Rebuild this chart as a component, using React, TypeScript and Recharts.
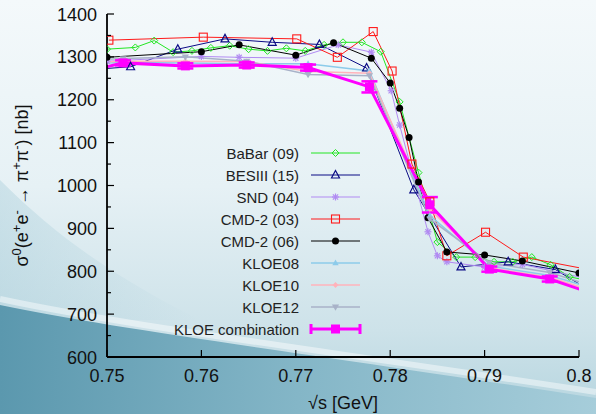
import React from 'react';
import { LineChart, Line, XAxis, YAxis, ErrorBar, Legend } from 'recharts';

const FONT = '"Liberation Sans", Arial, Helvetica, sans-serif';

// ---- axis ticks ----
const X_TICKS = [0.75, 0.76, 0.77, 0.78, 0.79, 0.8];
const X_TICK_LABELS = ['0.75', '0.76', '0.77', '0.78', '0.79', '0.8'];
const Y_MAJOR = [600, 700, 800, 900, 1000, 1100, 1200, 1300, 1400];
const Y_MINOR = [650, 750, 850, 950, 1050, 1150, 1250, 1350];
const Y_TICK_LABELS = ['600', '700', '800', '900', '1000', '1100', '1200', '1300', '1400'];

// ---- series data ----
const babarX = [0.75, 0.753, 0.755, 0.757, 0.759, 0.761, 0.763, 0.765, 0.767, 0.769, 0.771, 0.773, 0.775, 0.777, 0.779, 0.781, 0.783, 0.785, 0.787, 0.789, 0.791, 0.793, 0.795, 0.797, 0.799, 0.801];
const babarY = [1318, 1322, 1338, 1311, 1314, 1321, 1326, 1318, 1314, 1320, 1314, 1328, 1334, 1334, 1312, 1195, 1030, 868, 833, 833, 822, 822, 833, 815, 787, 778];

const besX = [0.7475, 0.7525, 0.7575, 0.7625, 0.7675, 0.7725, 0.7775, 0.7825, 0.7875, 0.7925, 0.7975, 0.8025];
const besY = [1269, 1277, 1318, 1342, 1334, 1329, 1274, 990, 810, 822, 804, 737];

const sndX = [0.75, 0.76, 0.764, 0.77, 0.7745, 0.778, 0.7801, 0.781, 0.784, 0.785, 0.786, 0.79, 0.794, 0.802];
const sndY = [1290, 1301, 1299, 1297, 1328, 1311, 1221, 1141, 892, 836, 822, 810, 816, 777];

const cmd03X = [0.7502, 0.7602, 0.7701, 0.7744, 0.7782, 0.7802, 0.7823, 0.7842, 0.786, 0.7901, 0.7941, 0.8041];
const cmd03Y = [1339, 1346, 1342, 1299, 1359, 1267, 1050, 962, 836, 891, 833, 791];

const cmd06X = [0.75, 0.76, 0.764, 0.77, 0.774, 0.778, 0.78, 0.781, 0.782, 0.783, 0.784, 0.786, 0.79, 0.794, 0.8];
const cmd06Y = [1299, 1312, 1328, 1304, 1333, 1297, 1239, 1180, 1112, 1008, 925, 845, 838, 824, 796];

const kloeX = [0.7452, 0.7517, 0.7583, 0.7648, 0.7713, 0.7778, 0.7842, 0.7905, 0.7969, 0.8034];
const kloe08Y = [1283, 1287, 1286, 1284, 1284, 1267, 930, 812, 790, 748];
const kloe10Y = [1284, 1290, 1290, 1289, 1266, 1262, 945, 808, 786, 740];
const kloe12Y = [1290, 1296, 1300, 1290, 1259, 1256, 922, 820, 797, 752];
const combY = [1251, 1286, 1279, 1281, 1275, 1230, 955, 805, 782, 733];
const combErr = [0, 6, 6, 6, 7, 13, 18, 6, 6, 0];

type Pt = { x: number; y: number; err?: number };
const zip = (xs: number[], ys: number[], es?: number[]): Pt[] =>
  xs.map((x, i) => ({ x, y: ys[i], err: es ? es[i] : undefined }));

const SERIES = [
  { name: 'BaBar (09)', data: zip(babarX, babarY), color: '#22e622', width: 1, marker: 'diamondOpen' },
  { name: 'BESIII (15)', data: zip(besX, besY), color: '#0b0b85', width: 1, marker: 'triOpen' },
  { name: 'SND (04)', data: zip(sndX, sndY), color: '#b18af2', width: 1, marker: 'star' },
  { name: 'CMD-2 (03)', data: zip(cmd03X, cmd03Y), color: '#ff1a1a', width: 1, marker: 'squareOpen' },
  { name: 'CMD-2 (06)', data: zip(cmd06X, cmd06Y), color: '#000000', width: 1, marker: 'circle' },
  { name: 'KLOE08', data: zip(kloeX, kloe08Y), color: '#8ccbea', width: 1.5, marker: 'triSmall' },
  { name: 'KLOE10', data: zip(kloeX, kloe10Y), color: '#ffb3bb', width: 1.5, marker: 'diamondSmall' },
  { name: 'KLOE12', data: zip(kloeX, kloe12Y), color: '#a8b2c8', width: 1.5, marker: 'triDown' },
  { name: 'KLOE combination', data: zip(kloeX, combY, combErr), color: '#ff00ff', width: 3, marker: 'square', err: true },
];

function Marker({ shape, cx, cy, color }: { shape: string; cx: number; cy: number; color: string }) {
  switch (shape) {
    case 'diamondOpen':
      return <polygon points={`${cx},${cy - 3.5} ${cx + 3.5},${cy} ${cx},${cy + 3.5} ${cx - 3.5},${cy}`} fill="none" stroke={color} strokeWidth={1} />;
    case 'triOpen':
      return <polygon points={`${cx},${cy - 4.5} ${cx + 4},${cy + 3} ${cx - 4},${cy + 3}`} fill="none" stroke={color} strokeWidth={1.2} />;
    case 'star':
      return (
        <g stroke={color} strokeWidth={1.2}>
          <line x1={cx - 3.5} y1={cy} x2={cx + 3.5} y2={cy} />
          <line x1={cx} y1={cy - 3.5} x2={cx} y2={cy + 3.5} />
          <line x1={cx - 2.6} y1={cy - 2.6} x2={cx + 2.6} y2={cy + 2.6} />
          <line x1={cx - 2.6} y1={cy + 2.6} x2={cx + 2.6} y2={cy - 2.6} />
        </g>
      );
    case 'squareOpen':
      return <rect x={cx - 4} y={cy - 4} width={8} height={8} fill="none" stroke={color} strokeWidth={1.1} />;
    case 'circle':
      return <circle cx={cx} cy={cy} r={3.5} fill={color} />;
    case 'triSmall':
      return <polygon points={`${cx},${cy - 3.5} ${cx + 3.2},${cy + 2.3} ${cx - 3.2},${cy + 2.3}`} fill={color} />;
    case 'diamondSmall':
      return <polygon points={`${cx},${cy - 3} ${cx + 3},${cy} ${cx},${cy + 3} ${cx - 3},${cy}`} fill={color} />;
    case 'triDown':
      return <polygon points={`${cx},${cy + 3.8} ${cx + 3.6},${cy - 2.4} ${cx - 3.6},${cy - 2.4}`} fill={color} />;
    case 'square':
      return <rect x={cx - 4.5} y={cy - 4.5} width={9} height={9} fill={color} />;
    default:
      return null;
  }
}

const makeDot = (shape: string, color: string, name: string) => (p: any) => {
  const { cx, cy, index } = p;
  if (cx == null || cy == null) return <g key={`${name}-${index}`} />;
  return (
    <g key={`${name}-${index}`}>
      <Marker shape={shape} cx={cx} cy={cy} color={color} />
    </g>
  );
};

const Y_ALL = [...Y_MAJOR, ...Y_MINOR].sort((a, b) => a - b);

const BottomTick = (p: any) => {
  const { x, y, payload } = p;
  const i = X_TICKS.indexOf(payload.value);
  return (
    <g>
      <line x1={x} x2={x} y1={y} y2={y - 7} stroke="#000" strokeWidth={1.2} />
      <text x={x} y={y + 25} textAnchor="middle" fontSize={18} fontFamily={FONT} fill="#111">
        {X_TICK_LABELS[i]}
      </text>
    </g>
  );
};
const TopTick = (p: any) => {
  const { x, y } = p;
  return <line x1={x} x2={x} y1={y} y2={y + 7} stroke="#000" strokeWidth={1.2} />;
};
const LeftTick = (p: any) => {
  const { x, y, payload } = p;
  const i = Y_MAJOR.indexOf(payload.value);
  const len = i >= 0 ? 7 : 4;
  return (
    <g>
      <line x1={x} x2={x + len} y1={y} y2={y} stroke="#000" strokeWidth={1.2} />
      {i >= 0 && (
        <text x={x - 10} y={y + 6.5} textAnchor="end" fontSize={18} fontFamily={FONT} fill="#111">
          {Y_TICK_LABELS[i]}
        </text>
      )}
    </g>
  );
};
const RightTick = (p: any) => {
  const { x, y, payload } = p;
  const len = Y_MAJOR.indexOf(payload.value) >= 0 ? 7 : 4;
  return <line x1={x} x2={x - len} y1={y} y2={y} stroke="#000" strokeWidth={1.2} />;
};

const XTitle = (p: any) => {
  const vb = p.viewBox || {};
  return (
    <text x={vb.x + vb.width / 2} y={vb.y + 52} textAnchor="middle" fontSize={18} fontFamily={FONT} fill="#111">
      √s [GeV]
    </text>
  );
};

const YTitle = (p: any) => {
  const vb = p.viewBox || {};
  const cy = vb.y + vb.height / 2;
  const cx = 28;
  return (
    <text transform={`translate(${cx},${cy}) rotate(-90)`} textAnchor="middle" fontSize={18} fontFamily={FONT} fill="#111">
      <tspan>σ</tspan>
      <tspan dy={-7} fontSize={13}>0</tspan>
      <tspan dy={7}>(e</tspan>
      <tspan dy={-7} fontSize={13}>+</tspan>
      <tspan dy={7}>e</tspan>
      <tspan dy={-7} fontSize={13}>-</tspan>
      <tspan dy={7}> → π</tspan>
      <tspan dy={-7} fontSize={13}>+</tspan>
      <tspan dy={7}>π</tspan>
      <tspan dy={-7} fontSize={13}>-</tspan>
      <tspan dy={7}>) [nb]</tspan>
    </text>
  );
};

const LEG_LEFT = 150;
const LEG_TOP = 140;
const LEG_W = 230;
const LEG_H = 205;
const LegendBox = () => (
  <svg width={LEG_W} height={LEG_H} style={{ display: 'block', overflow: 'visible' }}>
    {SERIES.map((s, i) => {
      const cy = 13 + 22 * i;
      const x1 = 311 - LEG_LEFT;
      const x2 = 360 - LEG_LEFT;
      const mx = (x1 + x2) / 2;
      return (
        <g key={s.name}>
          <text x={299 - LEG_LEFT} y={cy + 5.5} textAnchor="end" fontSize={15} fontFamily={FONT} fill="#222">
            {s.name}
          </text>
          <line x1={x1} x2={x2} y1={cy} y2={cy} stroke={s.color} strokeWidth={s.width} />
          {s.err && (
            <g stroke={s.color} strokeWidth={3}>
              <line x1={x1} x2={x1} y1={cy - 5} y2={cy + 5} />
              <line x1={x2} x2={x2} y1={cy - 5} y2={cy + 5} />
            </g>
          )}
          <Marker shape={s.marker} cx={mx} cy={cy} color={s.color} />
        </g>
      );
    })}
  </svg>
);

function Background() {
  return (
    <svg width={596} height={414} style={{ position: 'absolute', left: 0, top: 0 }}>
      <defs>
        <linearGradient id="bgv" x1="0" y1="0" x2="0" y2="1">
          <stop offset="0" stopColor="#f4f9fb" />
          <stop offset="0.45" stopColor="#e6f1f5" />
          <stop offset="0.8" stopColor="#cde2e9" />
          <stop offset="1" stopColor="#b6d5df" />
        </linearGradient>
        <linearGradient id="dark" x1="0" y1="0" x2="1" y2="0">
          <stop offset="0" stopColor="#5b98ae" />
          <stop offset="0.5" stopColor="#84b6c7" />
          <stop offset="1" stopColor="#a6cdda" />
        </linearGradient>
        <linearGradient id="leftshade" x1="0" y1="0" x2="1" y2="0">
          <stop offset="0" stopColor="#9cc6d4" stopOpacity={0.7} />
          <stop offset="1" stopColor="#9cc6d4" stopOpacity={0} />
        </linearGradient>
      </defs>
      <rect width={596} height={414} fill="url(#bgv)" />
      <path d="M0,180 C60,240 120,280 200,320 L0,320 Z" fill="url(#leftshade)" opacity={0.5} />
      <path d="M0,305 C120,330 300,352 596,398 L596,414 L0,414 Z" fill="url(#dark)" />
      <path d="M0,299 C120,325 300,347 596,392" stroke="#ffffff" strokeOpacity={0.45} strokeWidth={6} fill="none" />
    </svg>
  );
}

export default function App() {
  return (
    <div style={{ position: 'absolute', left: 0, top: 0, width: 596, height: 414, overflow: 'hidden', fontFamily: FONT }}>
      <Background />
      <div style={{ position: 'absolute', left: 0, top: 0 }}>
        <LineChart width={596} height={414} margin={{ top: 14, right: 17, bottom: 27, left: 47 }}>
          <XAxis
            dataKey="x"
            type="number"
            domain={[0.75, 0.8]}
            allowDataOverflow
            ticks={X_TICKS}
            interval={0}
            height={30}
            tickSize={0}
            tickMargin={0}
            tickLine={false}
            tick={BottomTick}
            axisLine={{ stroke: '#000', strokeWidth: 1.8 }}
            label={{ content: XTitle }}
          />
          <XAxis
            xAxisId="top"
            orientation="top"
            type="number"
            domain={[0.75, 0.8]}
            allowDataOverflow
            ticks={X_TICKS}
            interval={0}
            height={0}
            tickSize={0}
            tickMargin={0}
            tickLine={false}
            tick={TopTick}
            axisLine={{ stroke: '#000', strokeWidth: 1.8 }}
          />
          <YAxis
            type="number"
            domain={[600, 1400]}
            allowDataOverflow
            ticks={Y_ALL}
            interval={0}
            width={60}
            tickSize={0}
            tickMargin={0}
            tickLine={false}
            tick={LeftTick}
            axisLine={{ stroke: '#000', strokeWidth: 1.8 }}
            label={{ content: YTitle }}
          />
          <YAxis
            yAxisId="right"
            orientation="right"
            type="number"
            domain={[600, 1400]}
            allowDataOverflow
            ticks={Y_ALL}
            interval={0}
            width={0}
            tickSize={0}
            tickMargin={0}
            tickLine={false}
            tick={RightTick}
            axisLine={{ stroke: '#000', strokeWidth: 1.8 }}
          />
          <Legend
            layout="horizontal"
            verticalAlign="middle"
            align="center"
            content={LegendBox}
            wrapperStyle={{ left: LEG_LEFT, top: LEG_TOP, width: LEG_W, height: LEG_H }}
          />
          {SERIES.map((s) => (
            <Line
              key={s.name}
              name={s.name}
              data={s.data}
              dataKey="y"
              type="linear"
              stroke={s.color}
              strokeWidth={s.width}
              dot={makeDot(s.marker, s.color, s.name)}
              activeDot={false}
              isAnimationActive={false}
            >
              {s.err && <ErrorBar dataKey="err" direction="y" width={8} strokeWidth={2.5} stroke={s.color} />}
            </Line>
          ))}
        </LineChart>
      </div>
    </div>
  );
}
